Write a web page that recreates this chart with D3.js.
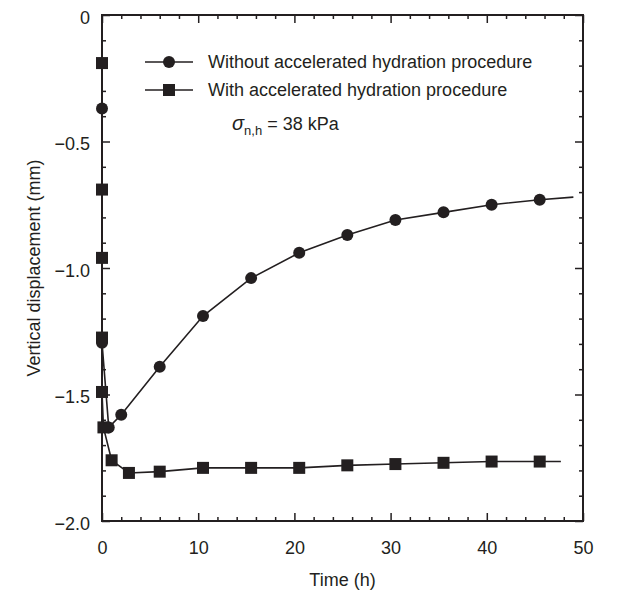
<!DOCTYPE html>
<html>
<head>
<meta charset="utf-8">
<script src="https://cdn.jsdelivr.net/npm/d3@7"></script>
<style>
  body { margin: 0; background: #fff; }
  text { font-family: "Liberation Sans", Arial, sans-serif; fill: #231f20; }
</style>
</head>
<body>
<script>
// Series (time in h, displacement in mm)
const withoutTime = [0, 0, 0.7, 2, 6, 10.5, 15.5, 20.5, 25.5, 30.5, 35.5, 40.5, 45.5];
const withoutDisp = [-0.37, -1.295, -1.63, -1.58, -1.39, -1.19, -1.04, -0.94, -0.87, -0.81, -0.78, -0.75, -0.73];
const withoutLineEnd = [49, -0.72];

const withTime = [0, 0, 0, 0, 0, 0.15, 1, 2.8, 6, 10.5, 15.5, 20.5, 25.5, 30.5, 35.5, 40.5, 45.5];
const withDisp = [-0.19, -0.69, -0.96, -1.275, -1.49, -1.63, -1.76, -1.81, -1.805, -1.79, -1.79, -1.79, -1.78, -1.775, -1.77, -1.765, -1.765];
const withLineEnd = [47.7, -1.765];

const xTicks = [0, 10, 20, 30, 40, 50];
const yTicks = [0, -0.5, -1.0, -1.5, -2.0];
const legendLabels = ["Without accelerated hydration procedure", "With accelerated hydration procedure"];

const width = 631;
const height = 595;
const margin = { top: 15, right: 48, bottom: 74, left: 102 };
const ink = "#231f20";
const fs = "18px";

const x = d3.scaleLinear().domain([0, 50]).range([margin.left, width - margin.right]);
const y = d3.scaleLinear().domain([-2, 0]).range([height - margin.bottom, margin.top]);

const svg = d3.select("body").append("svg")
  .attr("width", width)
  .attr("height", height);

const xMinor = d3.range(0, 51, 2).filter(d => d % 10 !== 0);
const yMinor = d3.range(-20, 1).map(d => d / 10).filter(d => Math.round(d * 10) % 5 !== 0);

function styleAxis(g) {
  g.select(".domain").remove();
  g.selectAll(".tick line").attr("stroke", ink).attr("stroke-width", 1.5);
  g.selectAll(".tick text").attr("fill", ink).style("font-size", fs);
}

// bottom axis
svg.append("g")
  .attr("transform", `translate(0,${y(-2)})`)
  .call(d3.axisBottom(x).tickValues(xTicks).tickSize(-8).tickPadding(20).tickFormat(d3.format("d")))
  .call(styleAxis);
svg.append("g")
  .attr("transform", `translate(0,${y(-2)})`)
  .call(d3.axisBottom(x).tickValues(xMinor).tickSize(-4).tickFormat(""))
  .call(styleAxis);

// top axis
svg.append("g")
  .attr("transform", `translate(0,${y(0)})`)
  .call(d3.axisTop(x).tickValues(xTicks).tickSize(-8).tickFormat(""))
  .call(styleAxis);
svg.append("g")
  .attr("transform", `translate(0,${y(0)})`)
  .call(d3.axisTop(x).tickValues(xMinor).tickSize(-4).tickFormat(""))
  .call(styleAxis);

// left axis
svg.append("g")
  .attr("transform", `translate(${x(0)},0)`)
  .call(d3.axisLeft(y).tickValues(yTicks).tickSize(-8).tickPadding(12)
    .tickFormat(d => d === 0 ? "0" : d3.format(".1f")(d)))
  .call(styleAxis)
  .call(g => g.selectAll(".tick text").attr("dy", "0.45em"));
svg.append("g")
  .attr("transform", `translate(${x(0)},0)`)
  .call(d3.axisLeft(y).tickValues(yMinor).tickSize(-4).tickFormat(""))
  .call(styleAxis);

// right axis
svg.append("g")
  .attr("transform", `translate(${x(50)},0)`)
  .call(d3.axisRight(y).tickValues(yTicks).tickSize(-8).tickFormat(""))
  .call(styleAxis);
svg.append("g")
  .attr("transform", `translate(${x(50)},0)`)
  .call(d3.axisRight(y).tickValues(yMinor).tickSize(-4).tickFormat(""))
  .call(styleAxis);

// frame
svg.append("rect")
  .attr("x", x(0))
  .attr("y", y(0))
  .attr("width", x(50) - x(0))
  .attr("height", y(-2) - y(0))
  .attr("fill", "none")
  .attr("stroke", ink)
  .attr("stroke-width", 2);

// axis titles
svg.append("text")
  .attr("x", (x(0) + x(50)) / 2)
  .attr("y", 586)
  .attr("text-anchor", "middle")
  .style("font-size", fs)
  .text("Time (h)");

svg.append("text")
  .attr("transform", `translate(40,${(y(0) + y(-2)) / 2}) rotate(-90)`)
  .attr("text-anchor", "middle")
  .style("font-size", fs)
  .text("Vertical displacement (mm)");

// lines
const line = d3.line().x(d => x(d[0])).y(d => y(d[1]));

const withoutPts = withoutTime.map((t, i) => [t, withoutDisp[i]]);
const withPts = withTime.map((t, i) => [t, withDisp[i]]);

svg.append("path")
  .attr("d", line(withoutPts.concat([withoutLineEnd])))
  .attr("fill", "none")
  .attr("stroke", ink)
  .attr("stroke-width", 1.6);

svg.append("path")
  .attr("d", line(withPts.concat([withLineEnd])))
  .attr("fill", "none")
  .attr("stroke", ink)
  .attr("stroke-width", 1.6);

// markers
const sq = 12;
svg.append("g").selectAll("rect")
  .data(withPts)
  .join("rect")
  .attr("x", d => x(d[0]) - sq / 2)
  .attr("y", d => y(d[1]) - sq / 2)
  .attr("width", sq)
  .attr("height", sq)
  .attr("fill", ink);

svg.append("g").selectAll("circle")
  .data(withoutPts)
  .join("circle")
  .attr("cx", d => x(d[0]))
  .attr("cy", d => y(d[1]))
  .attr("r", 6)
  .attr("fill", ink);

// legend
const legend = svg.append("g");
legendLabels.forEach((label, i) => {
  const ly = 62 + i * 28;
  legend.append("line")
    .attr("x1", 145).attr("x2", 193)
    .attr("y1", ly).attr("y2", ly)
    .attr("stroke", ink).attr("stroke-width", 1.6);
  if (i === 0) {
    legend.append("circle").attr("cx", 169).attr("cy", ly).attr("r", 6).attr("fill", ink);
  } else {
    legend.append("rect").attr("x", 169 - sq / 2).attr("y", ly - sq / 2)
      .attr("width", sq).attr("height", sq).attr("fill", ink);
  }
  legend.append("text")
    .attr("x", 208)
    .attr("y", ly + 6)
    .style("font-size", fs)
    .text(label);
});

// annotation
const note = svg.append("text")
  .attr("x", 232)
  .attr("y", 130)
  .style("font-size", fs);
note.append("tspan").attr("font-style", "italic").style("font-size", "20px").text("σ");
note.append("tspan").attr("dy", 5).style("font-size", "13px").text("n,h");
note.append("tspan").attr("dy", -5).text(" = 38 kPa");
</script>
</body>
</html>
